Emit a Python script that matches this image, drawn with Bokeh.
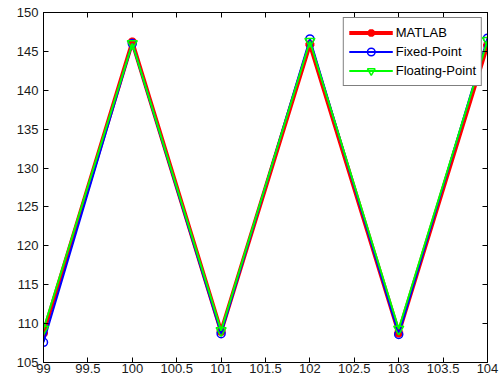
from bokeh.plotting import figure
from bokeh.models import LinearAxis, FixedTicker, Range1d, Legend, LegendItem
from bokeh.embed import file_html
from bokeh.resources import INLINE

# Sample positions and the three computed series
x_vals = [99, 100, 101, 102, 103, 104]
matlab_vals = [108.8, 146.2, 109.0, 145.9, 108.8, 145.8]
fixed_vals = [107.6, 146.0, 108.7, 146.6, 108.6, 146.7]
float_vals = [109.3, 146.0, 109.1, 146.3, 109.3, 146.4]

x_ticks = [99, 99.5, 100, 100.5, 101, 101.5, 102, 102.5, 103, 103.5, 104]
x_tick_labels = ["99", "99.5", "100", "100.5", "101", "101.5", "102", "102.5", "103", "103.5", "104"]
y_ticks = [105, 110, 115, 120, 125, 130, 135, 140, 145, 150]

FONT = "Liberation Sans"

p = figure(width=499, height=381, output_backend="svg", toolbar_location=None,
           x_range=Range1d(99, 104), y_range=Range1d(105, 150),
           min_border_left=43, min_border_right=12, min_border_top=12, min_border_bottom=19)
p.background_fill_color = "white"
p.border_fill_color = "white"
p.grid.visible = False
p.outline_line_color = "#000000"
p.outline_line_width = 1


def style_axis(ax):
    ax.major_tick_in = 5
    ax.major_tick_out = 0
    ax.minor_tick_in = 0
    ax.minor_tick_out = 0
    ax.axis_line_color = "#000000"
    ax.major_tick_line_color = "#000000"
    ax.major_label_text_font = FONT
    ax.major_label_text_font_size = "13px"
    ax.major_label_text_color = "#1a1a1a"


xa = p.xaxis[0]
xa.ticker = FixedTicker(ticks=x_ticks)
xa.major_label_overrides = {t: s for t, s in zip(x_ticks, x_tick_labels)}
style_axis(xa)
xa.major_label_standoff = 1

ya = p.yaxis[0]
ya.ticker = FixedTicker(ticks=y_ticks)
style_axis(ya)
ya.major_label_standoff = 5

# Tick marks on the top and right edges of the box, without labels
top = LinearAxis(ticker=FixedTicker(ticks=x_ticks))
style_axis(top)
top.major_label_overrides = {t: "" for t in x_ticks}
top.major_label_standoff = 0
p.add_layout(top, "above")
right = LinearAxis(ticker=FixedTicker(ticks=y_ticks))
style_axis(right)
right.major_label_overrides = {t: "" for t in y_ticks}
right.major_label_standoff = 0
p.add_layout(right, "right")

# MATLAB reference: thick red line with asterisk markers
r_line = p.line(x_vals, matlab_vals, line_color="#ff0000", line_width=4)
r_mark = p.scatter(x_vals, matlab_vals, marker="asterisk", size=9,
                   line_color="#ff0000", line_width=3)

# Fixed-point result: blue line with open circles
b_line = p.line(x_vals, fixed_vals, line_color="#0000ff", line_width=2)
b_mark = p.scatter(x_vals, fixed_vals, marker="circle", size=8,
                   line_color="#0000ff", fill_color=None, line_width=1.5)

# Floating-point result: green line with open down-triangles
g_line = p.line(x_vals, float_vals, line_color="#00ff00", line_width=2)
g_mark = p.scatter(x_vals, float_vals, marker="inverted_triangle", size=10,
                   line_color="#00ff00", fill_color=None, line_width=1.5)

legend = Legend(items=[
    LegendItem(label="MATLAB", renderers=[r_line, r_mark]),
    LegendItem(label="Fixed-Point", renderers=[b_line, b_mark]),
    LegendItem(label="Floating-Point", renderers=[g_line, g_mark]),
], location="top_right")
legend.label_text_font = FONT
legend.label_text_font_size = "13px"
legend.label_text_color = "#000000"
legend.border_line_color = "#000000"
legend.border_line_width = 1
legend.background_fill_color = "white"
legend.background_fill_alpha = 1
legend.glyph_width = 44
legend.glyph_height = 19
legend.label_height = 19
legend.label_standoff = 3
legend.spacing = 0
legend.padding = 5
legend.margin = 5
p.add_layout(legend)

open("out.html", "w").write(file_html(p, INLINE))
